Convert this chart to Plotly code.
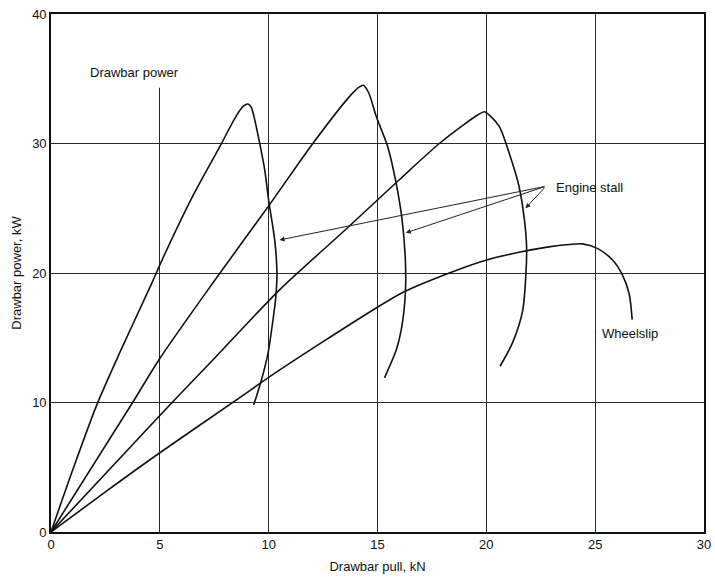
import plotly.graph_objects as go

# Drawbar power vs drawbar pull, one curve per gear, plus the wheelslip limit
pull_g1 = [0, 1.0, 2.1, 3.2, 4.6, 5.1, 6.5, 7.8, 8.5, 8.85, 9.05, 9.2, 9.35, 9.59, 9.82, 10.0, 10.28, 10.38, 10.32, 10.2, 9.97, 9.66, 9.31]
power_g1 = [0, 4.8, 9.8, 14.0, 19.1, 21.0, 25.9, 29.9, 32.1, 32.9, 33.05, 32.8, 31.9, 30.0, 27.95, 25.6, 22.5, 20.0, 18.0, 16.4, 13.8, 11.7, 9.8]

pull_g2 = [0, 3.75, 5.0, 7.55, 10.05, 12.03, 13.7, 14.15, 14.35, 14.6, 14.94, 15.47, 15.86, 16.13, 16.28, 16.28, 16.09, 15.86, 15.32]
power_g2 = [0, 10.0, 13.4, 19.5, 25.3, 30.0, 33.6, 34.35, 34.5, 33.9, 32.1, 29.75, 26.9, 24.1, 21.0, 18.4, 15.6, 14.05, 11.9]

pull_g3 = [0, 5.0, 7.5, 10.5, 13.5, 16.0, 17.84, 19.0, 19.6, 19.91, 20.2, 20.6, 21.06, 21.5, 21.75, 21.85, 21.82, 21.67, 21.2, 20.63]
power_g3 = [0, 9.0, 13.4, 18.7, 23.3, 27.2, 30.0, 31.5, 32.2, 32.45, 32.1, 31.3, 29.2, 26.7, 24.1, 22.0, 20.0, 17.1, 14.6, 12.8]

pull_slip = [0, 2.5, 5.0, 8.52, 10.05, 12.5, 14.94, 16.16, 18.3, 19.9, 21.5, 22.8, 23.8, 24.42, 25.1, 25.8, 26.25, 26.56, 26.7]
power_slip = [0, 3.1, 6.12, 10.2, 12.0, 14.7, 17.3, 18.5, 20.0, 20.95, 21.6, 22.0, 22.2, 22.25, 21.9, 21.0, 19.85, 18.4, 16.4]

x_ticks = [0, 5, 10, 15, 20, 25, 30]
y_ticks = [0, 10, 20, 30, 40]

# Engine-stall callout: common tail and one arrow tip on each gear curve
stall_tail = (22.74, 26.7)
stall_tips = [(10.5, 22.55), (16.3, 23.1), (21.8, 25.0)]

FONT = "Liberation Sans, Arial, Helvetica, sans-serif"

fig = go.Figure()
for xs, ys in [(pull_g1, power_g1), (pull_g2, power_g2), (pull_g3, power_g3), (pull_slip, power_slip)]:
    fig.add_trace(go.Scatter(
        x=xs, y=ys, mode="lines",
        line=dict(color="#111111", width=1.6, shape="spline", smoothing=0.8),
        showlegend=False, hoverinfo="skip",
    ))

annotations = [
    dict(x=1.7, y=35.5, text="Drawbar power", showarrow=False, xanchor="left", yanchor="middle"),
    dict(x=23.1, y=26.6, text="Engine stall", showarrow=False, xanchor="left", yanchor="middle"),
    dict(x=25.2, y=15.3, text="Wheelslip", showarrow=False, xanchor="left", yanchor="middle"),
]
for tx, ty in stall_tips:
    annotations.append(dict(
        x=tx, y=ty, ax=stall_tail[0], ay=stall_tail[1], axref="x", ayref="y",
        text="", showarrow=True, arrowhead=2, arrowsize=1.0, arrowwidth=1.0,
        arrowcolor="#222222",
    ))
for a in annotations:
    a.setdefault("font", dict(family=FONT, size=13, color="#111111"))

fig.update_layout(
    width=715, height=580,
    margin=dict(l=51, r=11, t=14, b=48, autoexpand=False),
    paper_bgcolor="white", plot_bgcolor="white",
    font=dict(family=FONT, size=13, color="#111111"),
    annotations=annotations,
    shapes=[dict(type="rect", xref="x", yref="y", x0=4.7, x1=5.3, y0=34.3, y1=40,
                 fillcolor="white", line=dict(width=0), layer="between")],
    xaxis=dict(
        range=[0, 30], tickvals=x_ticks, ticks="", showgrid=True,
        gridcolor="#2a2a2a", gridwidth=1.2, zeroline=False,
        showline=True, linecolor="#111111", linewidth=1.6, mirror=True,
        title=dict(text="Drawbar pull, kN", standoff=10, font=dict(size=13)),
        tickfont=dict(size=13), automargin=False,
    ),
    yaxis=dict(
        range=[0, 40], tickvals=y_ticks, ticks="", showgrid=True,
        gridcolor="#2a2a2a", gridwidth=1.2, zeroline=False,
        showline=True, linecolor="#111111", linewidth=1.6, mirror=True,
        title=dict(text="Drawbar power, kW", standoff=8, font=dict(size=13)),
        tickfont=dict(size=13), automargin=False,
    ),
)

fig.write_html("out.html")
